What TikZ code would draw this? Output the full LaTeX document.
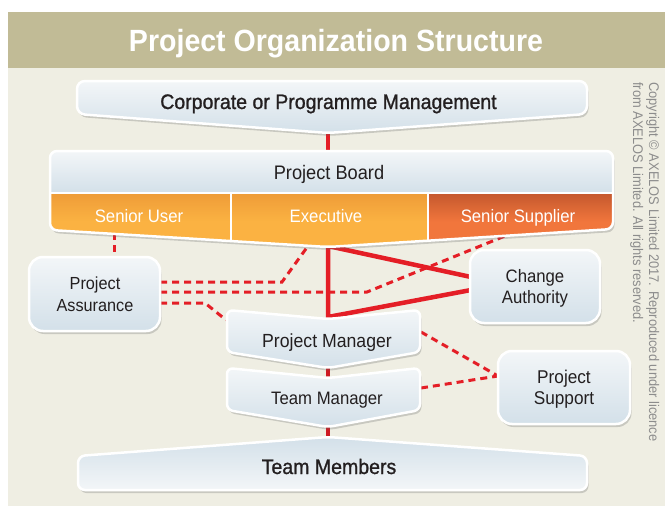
\documentclass[tikz,border=0pt]{standalone}
\usepackage{fontspec}
\setmainfont{Liberation Sans}[FakeStretch=0.93]
\newfontfamily\medf{Liberation Sans}[FakeStretch=0.93,FakeBold=1]
\newfontfamily\copyf{Liberation Sans}[FakeStretch=0.92]
\usetikzlibrary{shadows}
\definecolor{band}{RGB}{193,187,150}
\definecolor{panel}{RGB}{239,238,227}
\definecolor{boxtop}{RGB}{243,246,248}
\definecolor{boxbot}{RGB}{211,224,233}
\definecolor{orA}{RGB}{238,156,56}
\definecolor{orB}{RGB}{251,178,66}
\definecolor{ssA}{RGB}{196,88,46}
\definecolor{ssB}{RGB}{241,118,60}
\definecolor{redl}{RGB}{228,30,38}
\definecolor{redd}{RGB}{206,26,34}
\definecolor{txt}{RGB}{35,31,32}
\definecolor{copyg}{RGB}{140,140,140}
\tikzset{
  shadowed/.style={drop shadow={shadow xshift=1.5pt,shadow yshift=-3pt,opacity=.28,fill=black!60}},
  boxshape/.style={draw=white,line width=2.5pt,top color=boxtop,bottom color=boxbot,rounded corners=#1,shadowed},
  boxshape/.default=7pt,
  boxshapeinv/.style={draw=white,line width=2.5pt,top color=boxbot,bottom color=boxtop,rounded corners=#1,shadowed},
  boxshapeinv/.default=7pt,
  redsolid/.style={draw=redl,line width=4.5pt},
  reddark/.style={draw=redd,line width=4.5pt},
  reddash/.style={draw=redl,line width=3pt,dash pattern=on 7pt off 5pt},
  lbl/.style={inner sep=0pt,anchor=base,text=txt},
  wlbl/.style={inner sep=0pt,anchor=base,text=white},
}
\begin{document}
\begin{tikzpicture}[x=1pt,y=-1pt]
\useasboundingbox (0,0) rectangle (665,506);
\fill[white] (0,0) rectangle (665,506);
% panel and title band
\fill[panel] (8,12) rectangle (665,506);
\fill[band] (8,12) rectangle (665,68);
\node[wlbl,font=\fontsize{30.7}{34}\selectfont\bfseries] (title) at (336,52) {Project Organization Structure};

% named points
\coordinate (corpTip) at (328,131);
\coordinate (boardTop) at (328,153);
\coordinate (exTip) at (328,246);
\coordinate (suBot) at (114,233);
\coordinate (paTop) at (114,258);
\coordinate (exBot) at (308,246);
\coordinate (ssBot) at (505,236);
\coordinate (paR1) at (160,282);
\coordinate (paK1) at (282,282);
\coordinate (paR2) at (160,292);
\coordinate (paK2) at (367,292);
\coordinate (paR3) at (160,303);
\coordinate (paK3) at (205,303);
\coordinate (pmLeft) at (226,320);
\coordinate (pmNotch) at (328,317);
\coordinate (caUp) at (471,277);
\coordinate (caLow) at (471,290);
\coordinate (pmTip) at (328,366);
\coordinate (tmNotch) at (328,380);
\coordinate (tmTip) at (328,425);
\coordinate (tmbTop) at (328,440);
\coordinate (pmRight) at (421,332);
\coordinate (tmRight) at (421,388);
\coordinate (psLeft) at (498,376);

% connectors
\draw[redsolid] (corpTip) -- (boardTop);
\draw[reddash] (suBot) -- (paTop);
\draw[reddash] (paR1) -- (paK1) -- (exBot);
\draw[reddash] (paR2) -- (paK2) -- (ssBot);
\draw[reddash] (paR3) -- (paK3) -- (pmLeft);
\draw[redsolid,line join=miter] (caUp) -- (exTip) -- (pmNotch) -- (caLow);
\draw[reddark] (pmTip) -- (tmNotch);
\draw[reddark] (tmTip) -- (tmbTop);
\draw[reddash] (pmRight) -- (psLeft);
\draw[reddash] (tmRight) -- (psLeft);

% Corporate or Programme Management
\path[boxshape=8pt] (77,100) -- (77,81) -- (587,81) -- (587,114) -- (328,133) -- (77,114) -- cycle;
\node[lbl,font=\medf\fontsize{21}{24}\selectfont] (corp) at (328.5,109) {Corporate or Programme Management};

% Project Board
\def\boardpath{(50,190) -- (50,151) -- (613,151) -- (613,229) -- (328,247) -- (50,230) -- cycle}
\path[fill=white,rounded corners=7pt,shadowed] \boardpath;
\begin{scope}
\clip[rounded corners=7pt] \boardpath;
\shade[top color=boxtop,bottom color=boxbot] (50,151) rectangle (613,193);
\shade[top color=orA,bottom color=orB,middle color=orB] (50,193) rectangle (428,250);
\shade[top color=ssA,bottom color=ssB,middle color=ssB] (428,193) rectangle (613,250);
\draw[white,line width=2pt] (50,193) -- (613,193);
\draw[white,line width=2pt] (231,193) -- (231,245);
\draw[white,line width=2pt] (428,193) -- (428,245);
\end{scope}
\draw[white,line width=2.5pt,rounded corners=7pt] \boardpath;
\node[lbl,font=\fontsize{19.6}{22}\selectfont] (board) at (329,179) {Project Board};
\node[wlbl,font=\fontsize{18}{21}\selectfont] (su) at (139,222) {Senior User};
\node[wlbl,font=\fontsize{18}{21}\selectfont] (ex) at (326,222) {Executive};
\node[wlbl,font=\fontsize{18}{21}\selectfont] (ss) at (518,222) {Senior Supplier};

% Project Assurance
\path[boxshape=14pt] (29,257) rectangle (160,331);
\node[lbl,font=\fontsize{17.5}{21}\selectfont] (pa1) at (95,289) {Project};
\node[lbl,font=\fontsize{17.5}{21}\selectfont] (pa2) at (95,311) {Assurance};

% Change Authority
\path[boxshape=14pt] (470,250) rectangle (600,323);
\node[lbl,font=\fontsize{18}{21}\selectfont] (ca1) at (535,282) {Change};
\node[lbl,font=\fontsize{18}{21}\selectfont] (ca2) at (535,303) {Authority};

% Project Manager
\path[boxshape=6pt] (227,330) -- (227,310) -- (328,319) -- (420,310) -- (420,352) -- (328,368) -- (227,352) -- cycle;
\node[lbl,font=\fontsize{19}{22}\selectfont] (pm) at (327,347) {Project Manager};

% Team Manager
\path[boxshape=6pt] (227,390) -- (227,368) -- (328,378) -- (420,368) -- (420,410) -- (328,427) -- (227,410) -- cycle;
\node[lbl,font=\fontsize{18}{21}\selectfont] (tm) at (327,404) {Team Manager};

% Project Support
\path[boxshape=14pt] (498,351) rectangle (630,424);
\node[lbl,font=\fontsize{18.5}{21}\selectfont] (ps1) at (564,383) {Project};
\node[lbl,font=\fontsize{18.5}{21}\selectfont] (ps2) at (564,404) {Support};

% Team Members
\path[boxshapeinv=7pt] (78,475) -- (78,456) -- (328,437) -- (587,456) -- (587,490) -- (78,490) -- cycle;
\node[lbl,font=\medf\fontsize{21}{24}\selectfont] (members) at (329,474) {Team Members};

% copyright
\node[inner sep=0pt,text=copyg,font=\copyf\fontsize{14}{16}\selectfont,rotate=-90,anchor=base west] (cp1) at (649,82) {Copyright © AXELOS Limited 2017. Reproduced under licence};
\node[inner sep=0pt,text=copyg,font=\copyf\fontsize{14}{16}\selectfont,rotate=-90,anchor=base west] (cp2) at (633,82) {from AXELOS Limited. All rights reserved.};
\end{tikzpicture}
\end{document}
